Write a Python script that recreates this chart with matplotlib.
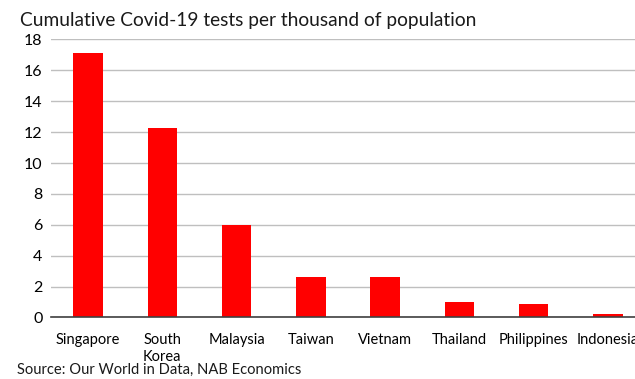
import matplotlib.pyplot as plt

# Covid-19 testy na tisic obyvatelov
krajiny = ["Singapore", "South\nKorea", "Malaysia", "Taiwan", "Vietnam",
           "Thailand", "Philippines", "Indonesia"]
testy = [17.1, 12.3, 6.0, 2.65, 2.65, 1.0, 0.87, 0.23]
yticks = [0, 2, 4, 6, 8, 10, 12, 14, 16, 18]

plt.rcParams["font.family"] = ["Lato", "DejaVu Sans"]

fig = plt.figure(figsize=(6.35, 3.79), dpi=100)
ax = fig.add_axes([0.0803, 0.1623, 0.9354, 0.7335])

x = range(len(krajiny))
ax.bar(x, testy, width=0.4, color="#ff0000", zorder=3)

ax.set_xlim(-0.5, len(krajiny) - 0.5)
ax.set_ylim(0, 18)
ax.set_yticks(yticks)
ax.set_yticklabels([str(t) for t in yticks], fontsize=11.5)
ax.set_xticks(list(x))
ax.set_xticklabels(krajiny, fontsize=10.5, va="top", linespacing=1.3)
ax.tick_params(axis="both", length=0, pad=6)
ax.tick_params(axis="x", pad=11)

for s in ["top", "right", "left"]:
    ax.spines[s].set_visible(False)
ax.spines["bottom"].set_color("#404040")
ax.spines["bottom"].set_linewidth(1.2)
ax.spines["bottom"].set_zorder(4)

ax.yaxis.grid(True, color="#bfbfbf", linewidth=1.0, zorder=0)
ax.set_axisbelow(True)

fig.text(0.032, 0.945, "Cumulative Covid-19 tests per thousand of population",
         fontsize=13.8, ha="left", va="center", color="#1a1a1a")
fig.text(0.027, 0.005, "Source: Our World in Data, NAB Economics",
         fontsize=10.6, ha="left", va="bottom", color="#1a1a1a")

plt.savefig("out.png", dpi=100)
